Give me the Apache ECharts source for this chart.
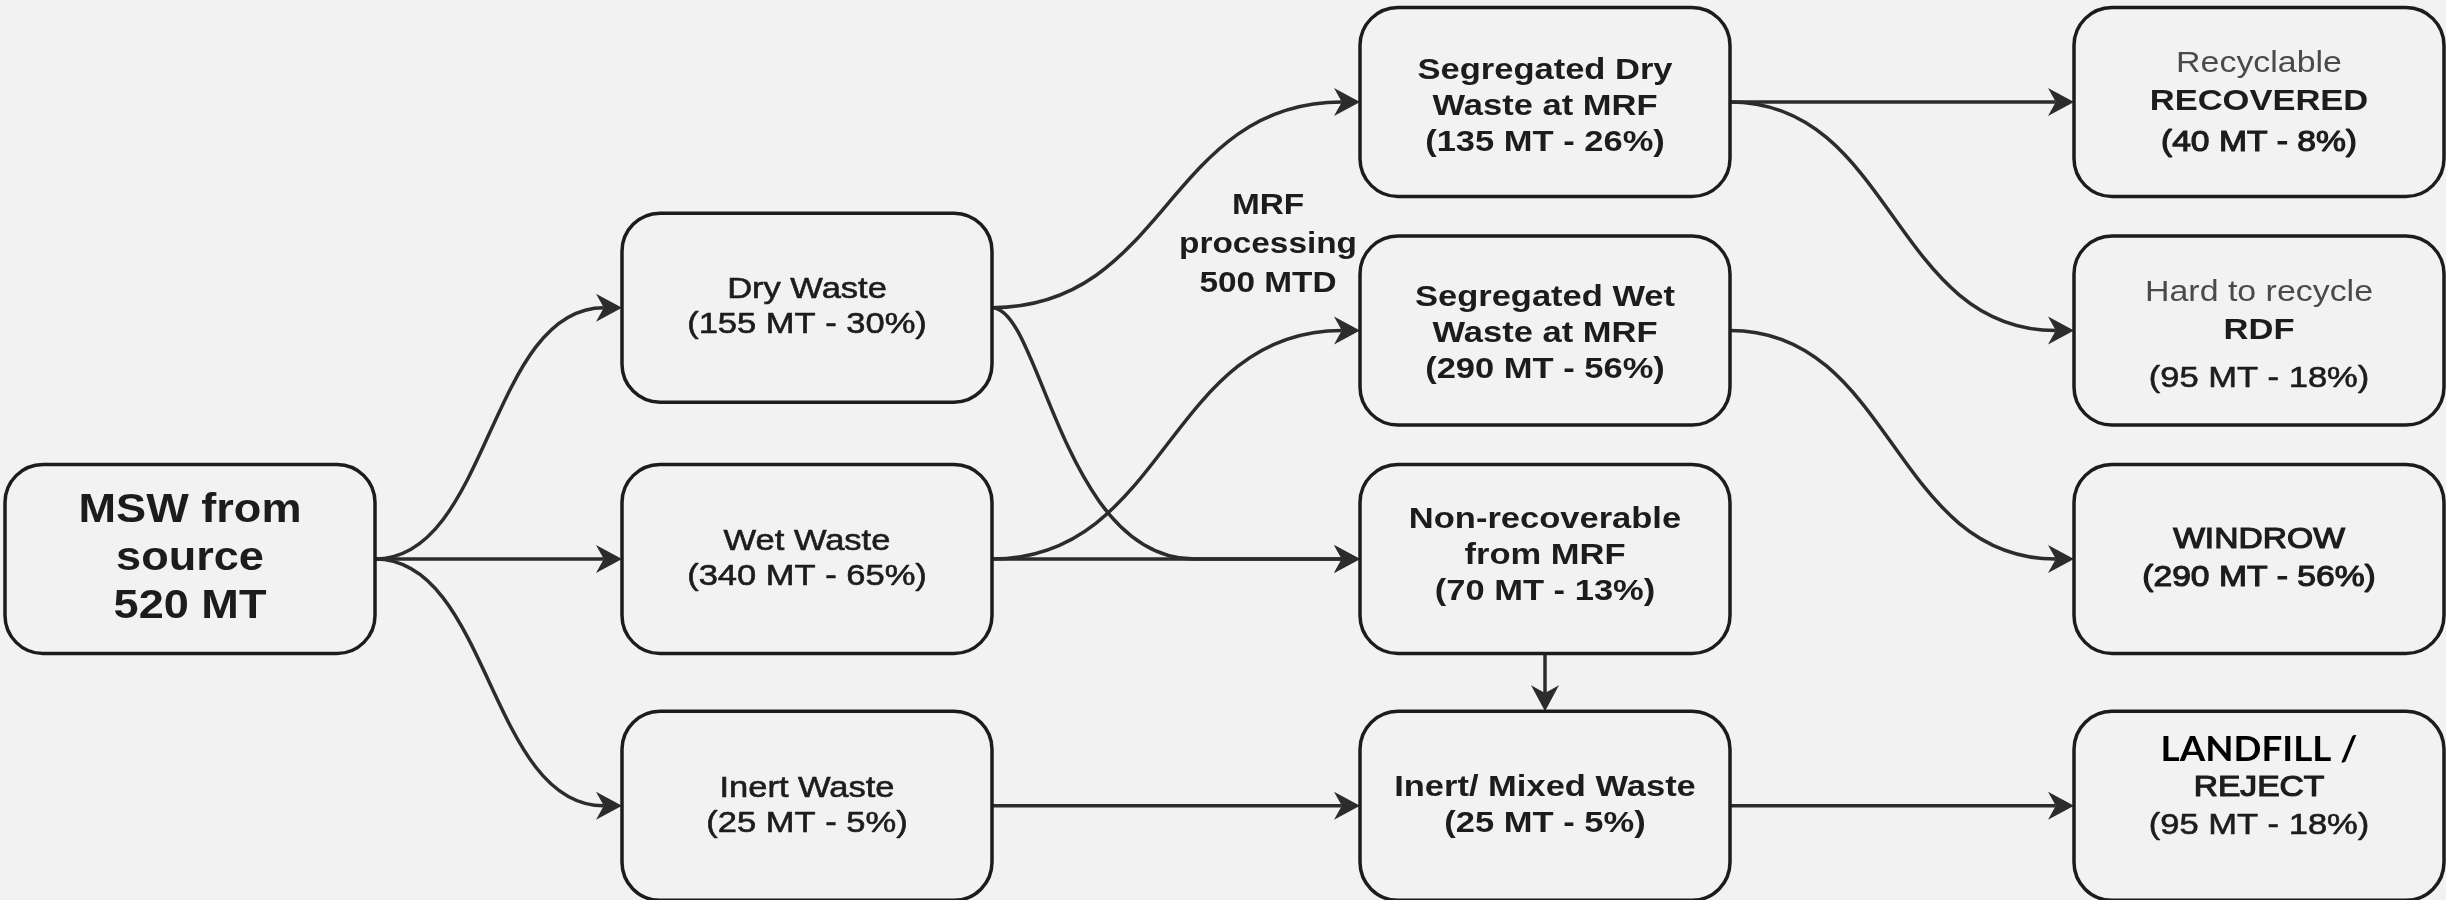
<!DOCTYPE html>
<html>
<head>
<meta charset="utf-8">
<script src="https://cdn.jsdelivr.net/npm/echarts@6/dist/echarts.min.js"></script>
<style>
  html, body { margin: 0; padding: 0; background: #f2f2f2; }
  #chart { width: 2446px; height: 900px; }
</style>
</head>
<body>
<div id="chart"></div>
<script>
  // ---- data: MSW flow (tonnes per day, share of total) ----
  const nodeIds = ['msw', 'dry', 'wet', 'inert', 'segDry', 'segWet', 'nonRec', 'mixed',
    'recovered', 'rdf', 'windrow', 'landfill']
  const nodeTitles = [
    ['MSW from', 'source'],
    ['Dry Waste'],
    ['Wet Waste'],
    ['Inert Waste'],
    ['Segregated Dry', 'Waste at MRF'],
    ['Segregated Wet', 'Waste at MRF'],
    ['Non-recoverable', 'from MRF'],
    ['Inert/ Mixed Waste'],
    ['Recyclable', 'RECOVERED'],
    ['Hard to recycle', 'RDF'],
    ['WINDROW'],
    ['LANDFILL /', 'REJECT']
  ]
  const nodeTonnes = [520, 155, 340, 25, 135, 290, 70, 25, 40, 95, 290, 95]
  const nodeShares = [null, 30, 65, 5, 26, 56, 13, 5, 8, 18, 56, 18]
  const linkFrom = ['msw', 'msw', 'msw', 'dry', 'dry', 'wet', 'wet', 'inert', 'nonRec',
    'segDry', 'segDry', 'segWet', 'mixed']
  const linkTo = ['dry', 'wet', 'inert', 'segDry', 'nonRec', 'segWet', 'nonRec', 'mixed', 'mixed',
    'recovered', 'rdf', 'windrow', 'landfill']
  const mrfCapacity = 500

  // ---- layout ----
  const nodeStage = [0, 1, 1, 1, 2, 2, 2, 2, 3, 3, 3, 3]
  const nodeLevel = [2, 0.9, 2, 3.08, 0, 1, 2, 3.08, 0, 1, 2, 3.08]
  const stageX = [190, 807, 1545, 2259]
  const stageLineH = [48, 35, 36, 38]
  const LEVEL_PX = 228.5
  const BOX_W = 370
  const BOX_H = 189
  const ARROW_L = 26
  const ARROW_W = 14
  const INK = '#1c1c1c'
  const EDGE = '#2c2c2c'
  const FONT = "'Liberation Sans', Arial, sans-serif"

  const fonts = {
    big: { size: 41, weight: 'bold', sx: 1.1, color: INK },
    reg: { size: 30, weight: 'normal', sx: 1.15, color: INK, stroke: 0.6 },
    semi: { size: 30, weight: 'normal', sx: 1.12, color: INK, stroke: 1.2 },
    bold: { size: 30, weight: 'bold', sx: 1.15, color: INK },
    lite: { size: 30, weight: 'normal', sx: 1.13, color: '#4a4a4a' },
    cal: { size: 35, weight: 'bold', sx: 1.05, color: '#000', family: 'Lato, sans-serif' }
  }
  const nodeFonts = [
    ['big', 'big', 'big'], ['reg', 'reg'], ['reg', 'reg'], ['reg', 'reg'],
    ['bold', 'bold', 'bold'], ['bold', 'bold', 'bold'], ['bold', 'bold', 'bold'], ['bold', 'bold'],
    ['lite', 'bold', 'semi'], ['lite', 'bold', 'reg'], ['semi', 'semi'], ['cal', 'semi', 'reg']
  ]
  const nodeNudge = {
    rdf: [0, 0, 10], landfill: [-18, -18, -18], recovered: [0, 0, 3],
    segDry: [5, 5, 5], segWet: [3, 3, 3], nonRec: [-3, -3, -3]
  }
  // bezier shape of a link: [cp1 fraction, cp2 fraction, end of curve fraction]
  const linkShape = { 'dry>nonRec': [0.14, 0.2, 0.58] }

  const idx = id => nodeIds.indexOf(id)
  const nodeX = i => stageX[nodeStage[i]]

  function nodeLines(i) {
    const amount = nodeShares[i] == null
      ? nodeTonnes[i] + ' MT'
      : '(' + nodeTonnes[i] + ' MT - ' + nodeShares[i] + '%)'
    return nodeTitles[i].concat([amount])
  }

  function renderNode(params, api) {
    const i = api.value(2)
    const c = api.coord([api.value(0), api.value(1)])
    const lines = nodeLines(i)
    const lh = stageLineH[nodeStage[i]]
    const nudge = nodeNudge[nodeIds[i]] || []
    const children = [{
      type: 'rect',
      shape: { x: c[0] - BOX_W / 2, y: c[1] - BOX_H / 2, width: BOX_W, height: BOX_H, r: 38 },
      style: { fill: '#f2f2f2', stroke: INK, lineWidth: 3.5 }
    }]
    lines.forEach((txt, k) => {
      const f = fonts[nodeFonts[i][k]]
      children.push({
        type: 'text',
        x: c[0],
        y: c[1] + (k - (lines.length - 1) / 2) * lh + (nudge[k] || 0),
        scaleX: f.sx,
        style: {
          text: txt,
          fill: f.color,
          fontSize: f.size,
          fontWeight: f.weight,
          fontFamily: f.family || FONT,
          stroke: f.stroke ? f.color : null,
          lineWidth: f.stroke || 0,
          align: 'center',
          verticalAlign: 'middle'
        }
      })
    })
    return { type: 'group', children: children }
  }

  function arrow(x, y, dir) {
    if (dir === 'down') {
      return { type: 'polygon', shape: { points: [[x, y], [x - ARROW_W, y - ARROW_L], [x, y - ARROW_L * 0.7], [x + ARROW_W, y - ARROW_L]] }, style: { fill: EDGE } }
    }
    return { type: 'polygon', shape: { points: [[x, y], [x - ARROW_L, y - ARROW_W], [x - ARROW_L * 0.7, y], [x - ARROW_L, y + ARROW_W]] }, style: { fill: EDGE } }
  }

  function renderLink(params, api) {
    const a = api.value(0)
    const b = api.value(1)
    const pa = api.coord([nodeX(a), nodeLevel[a]])
    const pb = api.coord([nodeX(b), nodeLevel[b]])
    const st = { stroke: EDGE, lineWidth: 3.5, fill: null }
    const children = []
    if (nodeStage[a] === nodeStage[b]) {
      const x = pa[0]
      const y1 = pa[1] + BOX_H / 2
      const y2 = pb[1] - BOX_H / 2
      children.push({ type: 'line', shape: { x1: x, y1: y1, x2: x, y2: y2 - ARROW_L * 0.7 }, style: st })
      children.push(arrow(x, y2, 'down'))
    } else {
      const sx = pa[0] + BOX_W / 2
      const sy = pa[1]
      const ex = pb[0] - BOX_W / 2
      const ey = pb[1]
      const bx = ex - ARROW_L * 0.7
      if (Math.abs(ey - sy) < 1) {
        children.push({ type: 'line', shape: { x1: sx, y1: sy, x2: bx, y2: ey }, style: st })
      } else {
        const shp = linkShape[nodeIds[a] + '>' + nodeIds[b]] || [0.5, 0.5, 1]
        const dx = bx - sx
        const cx = sx + dx * shp[2]
        children.push({
          type: 'bezierCurve',
          shape: { x1: sx, y1: sy, cpx1: sx + dx * shp[0], cpy1: sy, cpx2: sx + dx * shp[1], cpy2: ey, x2: cx, y2: ey },
          style: st
        })
        if (cx < bx) {
          children.push({ type: 'line', shape: { x1: cx, y1: ey, x2: bx, y2: ey }, style: st })
        }
      }
      children.push(arrow(ex, ey, 'right'))
    }
    return { type: 'group', children: children }
  }

  function renderNote(params, api) {
    const c = api.coord([api.value(0), api.value(1)])
    const lines = ['MRF', 'processing', api.value(2) + ' MTD']
    return {
      type: 'group',
      children: lines.map((t, k) => ({
        type: 'text',
        x: c[0],
        y: c[1] + (k - 1) * 39,
        scaleX: 1.15,
        style: { text: t, fill: INK, fontSize: 29, fontWeight: 'bold', fontFamily: FONT, align: 'center', verticalAlign: 'middle' }
      }))
    }
  }

  const chart = echarts.init(document.getElementById('chart'))
  chart.setOption({
    backgroundColor: '#f2f2f2',
    animation: false,
    grid: { left: 0, right: 0, top: 0, bottom: 0 },
    xAxis: { type: 'value', min: 0, max: 2446, show: false },
    yAxis: { type: 'value', min: -102 / LEVEL_PX, max: (900 - 102) / LEVEL_PX, inverse: true, show: false },
    series: [
      {
        type: 'custom',
        name: 'flows',
        clip: false,
        silent: true,
        renderItem: renderLink,
        data: linkFrom.map((s, k) => [idx(s), idx(linkTo[k])])
      },
      {
        type: 'custom',
        name: 'nodes',
        clip: false,
        silent: true,
        renderItem: renderNode,
        data: nodeIds.map((id, i) => [nodeX(i), nodeLevel[i], i])
      },
      {
        type: 'custom',
        name: 'note',
        clip: false,
        silent: true,
        renderItem: renderNote,
        data: [[1268, (245 - 102) / LEVEL_PX, mrfCapacity]]
      }
    ]
  })
</script>
</body>
</html>
